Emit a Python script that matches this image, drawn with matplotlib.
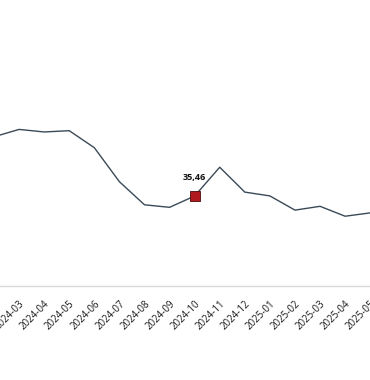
import matplotlib
matplotlib.use("Agg")
import matplotlib.pyplot as plt

months = ["2024-02", "2024-03", "2024-04", "2024-05", "2024-06", "2024-07", "2024-08",
          "2024-09", "2024-10", "2024-11", "2024-12", "2025-01", "2025-02", "2025-03",
          "2025-04", "2025-05"]
values = [58.8, 61.7, 60.7, 61.2, 54.5, 41.1, 32.0, 31.0, 35.46, 46.8, 37.0, 35.5,
          29.9, 31.4, 27.5, 28.8]
highlight = "2024-10"

plt.rcParams['font.family'] = ['Open Sans', 'DejaVu Sans']

fig = plt.figure(figsize=(3.7, 3.8), dpi=100)
# axes deliberately runs past the figure edges: the picture is a crop of a wider chart
ax = fig.add_axes([-6 / 370, 94 / 380, 376.2 / 370, 286 / 380])

x = list(range(len(months)))
ax.plot(x, values, color="#3b4a57", lw=1.0)

hi = months.index(highlight)
ax.plot(hi, values[hi], marker="s", ms=7.5, color="#b01a1f", mec="#4a0a0a", mew=0.6, zorder=3)
ax.annotate(f"{values[hi]:.2f}".replace(".", ","), (hi, values[hi]), xytext=(0, 10),
            textcoords="offset points", ha="center", va="bottom", fontsize=6.5,
            fontweight="bold", color="#111111")

ax.set_xlim(0, len(months) - 1)
ax.set_ylim(0, 112.7)
ax.set_xticks(x)
ax.set_xticklabels(months, rotation=45, ha="right", rotation_mode="anchor", fontsize=7,
                   color="#1a1a1a")
ax.tick_params(axis="x", length=0, pad=9)
ax.set_yticks([])
for s in ["top", "left", "right"]:
    ax.spines[s].set_visible(False)
ax.spines["bottom"].set_color("#d9d9d9")
ax.spines["bottom"].set_linewidth(1.0)

fig.savefig("out.png", dpi=100)
